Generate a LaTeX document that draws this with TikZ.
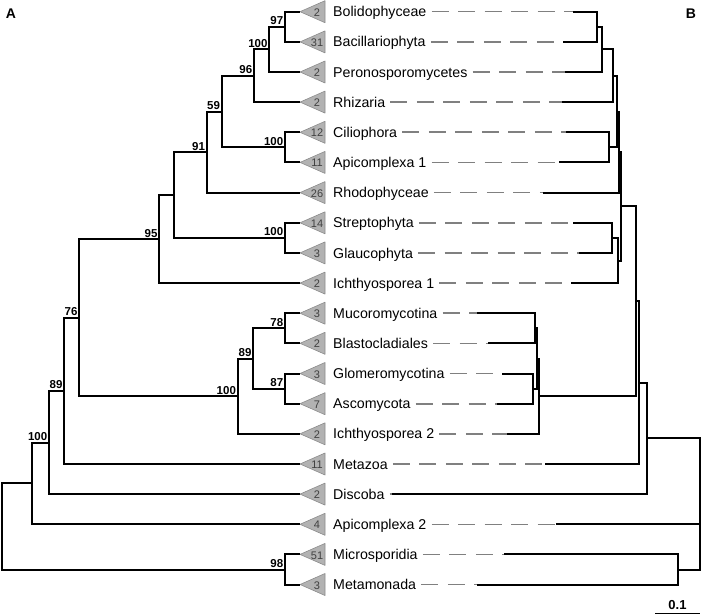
\documentclass[tikz,border=0pt]{standalone}
\usepackage{fontspec}
\setmainfont{Liberation Sans}
\usetikzlibrary{calc}

\begin{document}
\begin{tikzpicture}[x=1pt, y=-1pt,
  branch/.style={line width=2pt, black},
  clade/.style={draw=black!45, fill=black!30, line width=0.6pt, line join=round},
  count/.style={font=\fontsize{11}{11}\selectfont, text=black!75, anchor=base, inner sep=0pt, yshift=-4.6pt},
  taxon/.style={font=\fontsize{14.2}{14.2}\selectfont, anchor=base west, inner sep=0pt, yshift=-5.1pt},
  boot/.style={font=\fontsize{11.5}{11.5}\selectfont\bfseries, anchor=south east, inner sep=1.6pt},
  link/.style={line width=1.6pt, black!50, dash pattern=on 17pt off 9.5pt},
  panel/.style={font=\fontsize{14}{14}\selectfont\bfseries, inner sep=0pt}
]
\useasboundingbox (0,0) rectangle (704,615);

\node (pa) [panel] at (11,13.3) {A};
\node (pb) [panel] at (691,13.3) {B};

\foreach \n/\y/\k/\t/\bx in {
  bol/11.7/2/Bolidophyceae/573.3,
  bac/41.9/31/Bacillariophyta/563.3,
  per/72.0/2/Peronosporomycetes/565,
  rhi/102.1/2/Rhizaria/562.3,
  cil/132.3/12/Ciliophora/566,
  apa/162.4/11/Apicomplexa 1/559,
  rho/192.6/26/Rhodophyceae/543.3,
  str/222.8/14/Streptophyta/573.3,
  gla/252.9/3/Glaucophyta/579.3,
  ica/283.1/2/Ichthyosporea 1/570.7,
  muc/313.2/3/Mucoromycotina/476.7,
  bla/343.3/2/Blastocladiales/488.3,
  glo/373.5/3/Glomeromycotina/501.7,
  asc/403.7/7/Ascomycota/496.7,
  icb/433.8/2/Ichthyosporea 2/506.7,
  met/464.0/11/Metazoa/545,
  dis/494.1/2/Discoba/391.7,
  apb/524.3/4/Apicomplexa 2/556,
  mic/554.4/51/Microsporidia/504,
  mtm/584.5/3/Metamonada/476.7}{
  \coordinate (\n) at (300,\y);
  \filldraw [clade] (\n) -- ++(25,-11) -- ++(0,22) -- cycle;
  \node (\n-k) [count] at (317,\y) {\k};
  \node (\n-t) [taxon] at (333,\y) {\t};
  \coordinate (\n-b) at (\bx,\y);
  \draw [link] ($(\n-t.east |- \n)+(5,0)$) -- (\n-b);
}

% tree A
\coordinate (a97) at (285,26.8);
\coordinate (a100a) at (269.3,49.4);
\coordinate (a96) at (254,75.8);
\coordinate (aCA) at (285,147.4);
\coordinate (a59) at (221.7,111.6);
\coordinate (a91) at (206.7,152.1);
\coordinate (aSG) at (285,237.9);
\coordinate (aX) at (174.3,195);
\coordinate (a95) at (159.3,239.1);
\coordinate (a78) at (285,328.3);
\coordinate (a87) at (285,388.6);
\coordinate (a89a) at (253.3,358.5);
\coordinate (aF) at (237.7,396.2);
\coordinate (a76) at (79.3,317.7);
\coordinate (a89b) at (64.3,390.9);
\coordinate (a100b) at (49,442.5);
\coordinate (aY) at (32.3,483.4);
\coordinate (a98) at (285,569.5);
\coordinate (aR) at (1.7,526.5);

\draw [branch] (a97) |- (bol) (a97) |- (bac);
\draw [branch] (a100a) |- (a97) (a100a) |- (per);
\draw [branch] (a96) |- (a100a) (a96) |- (rhi);
\draw [branch] (aCA) |- (cil) (aCA) |- (apa);
\draw [branch] (a59) |- (a96) (a59) |- (aCA);
\draw [branch] (a91) |- (a59) (a91) |- (rho);
\draw [branch] (aSG) |- (str) (aSG) |- (gla);
\draw [branch] (aX) |- (a91) (aX) |- (aSG);
\draw [branch] (a95) |- (aX) (a95) |- (ica);
\draw [branch] (a78) |- (muc) (a78) |- (bla);
\draw [branch] (a87) |- (glo) (a87) |- (asc);
\draw [branch] (a89a) |- (a78) (a89a) |- (a87);
\draw [branch] (aF) |- (a89a) (aF) |- (icb);
\draw [branch] (a76) |- (a95) (a76) |- (aF);
\draw [branch] (a89b) |- (a76) (a89b) |- (met);
\draw [branch] (a100b) |- (a89b) (a100b) |- (dis);
\draw [branch] (aY) |- (a100b) (aY) |- (apb);
\draw [branch] (a98) |- (mic) (a98) |- (mtm);
\draw [branch] (aR) |- (aY) (aR) |- (a98);

\node (s97) [boot] at (a97) {97};
\node (s100a) [boot] at (a100a) {100};
\node (s96) [boot] at (a96) {96};
\node (sCA) [boot] at (aCA) {100};
\node (s59) [boot] at (a59) {59};
\node (s91) [boot] at (a91) {91};
\node (sSG) [boot] at (aSG) {100};
\node (s95) [boot] at (a95) {95};
\node (s78) [boot] at (a78) {78};
\node (s87) [boot] at (a87) {87};
\node (s89a) [boot] at (a89a) {89};
\node (sF) [boot] at (aF) {100};
\node (s76) [boot] at (a76) {76};
\node (s89b) [boot] at (a89b) {89};
\node (s100b) [boot] at (a100b) {100};
\node (s98) [boot] at (a98) {98};

% tree B
\coordinate (b1) at (597.3,26.8);
\coordinate (b2) at (601.7,49.4);
\coordinate (b3) at (613.3,75.8);
\coordinate (bCA) at (609.3,147.4);
\coordinate (b4) at (617.2,111.6);
\coordinate (b5) at (618.8,152.1);
\coordinate (bSG) at (611.7,237.9);
\coordinate (b6) at (618.3,260.5);
\coordinate (b7) at (620.8,206.3);
\coordinate (b78) at (534.5,328.3);
\coordinate (b87) at (533,388.6);
\coordinate (b89) at (537,358.5);
\coordinate (bF) at (539.3,396.2);
\coordinate (b76) at (635.5,301.3);
\coordinate (b89b) at (638.5,382.6);
\coordinate (b100) at (646.7,438.4);
\coordinate (b98) at (678.3,569.5);
\coordinate (bR) at (699.5,504);

\draw [branch] (b1) |- (bol-b) (b1) |- (bac-b);
\draw [branch] (b2) |- (b1) (b2) |- (per-b);
\draw [branch] (b3) |- (b2) (b3) |- (rhi-b);
\draw [branch] (bCA) |- (cil-b) (bCA) |- (apa-b);
\draw [branch] (b4) |- (b3) (b4) |- (bCA);
\draw [branch] (b5) |- (b4) (b5) |- (rho-b);
\draw [branch] (bSG) |- (str-b) (bSG) |- (gla-b);
\draw [branch] (b6) |- (bSG) (b6) |- (ica-b);
\draw [branch] (b7) |- (b5) (b7) |- (b6);
\draw [branch] (b78) |- (muc-b) (b78) |- (bla-b);
\draw [branch] (b87) |- (glo-b) (b87) |- (asc-b);
\draw [branch] (b89) |- (b78) (b89) |- (b87);
\draw [branch] (bF) |- (b89) (bF) |- (icb-b);
\draw [branch] (b76) |- (b7) (b76) |- (bF);
\draw [branch] (b89b) |- (b76) (b89b) |- (met-b);
\draw [branch] (b100) |- (b89b) (b100) |- (dis-b);
\draw [branch] (b98) |- (mic-b) (b98) |- (mtm-b);
\draw [branch] (bR) |- (b100) (bR) |- (apb-b) (bR) |- (b98);

% scale
\node (scl) [font=\fontsize{13}{13}\selectfont\bfseries, inner sep=0pt] at (677.5,605) {0.1};
\coordinate (sb1) at (655,613.3);
\coordinate (sb2) at (700,613.3);
\draw [line width=1.4pt] (sb1) -- (sb2);

\end{tikzpicture}
\end{document}
